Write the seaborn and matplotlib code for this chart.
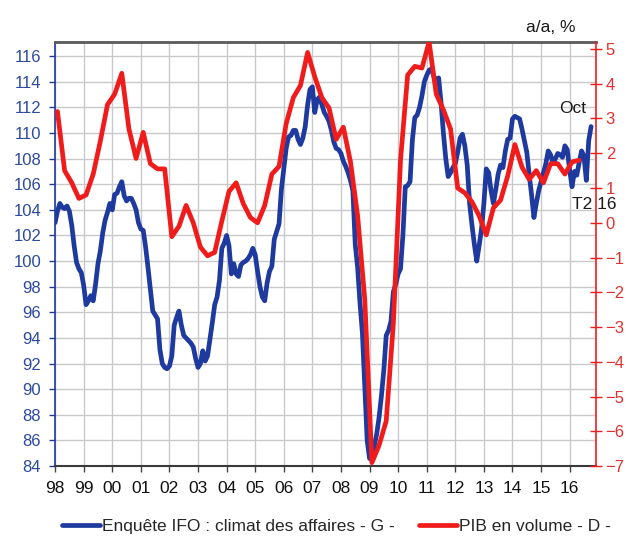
import numpy as np
import pandas as pd
import matplotlib
matplotlib.use("Agg")
import matplotlib.pyplot as plt
import seaborn as sns

# Enquête IFO : climat des affaires, mensuel, janv. 1998 -> oct. 2016 (axe gauche)
ifo = [
    103.0, 103.9, 104.5, 104.2, 104.1, 104.3, 103.9, 102.8, 101.2, 99.9, 99.4, 99.1,    # 98
    98.1, 96.6, 96.9, 97.3, 96.9, 98.2, 99.8, 100.8, 102.2, 103.2, 103.8, 104.5,        # 99
    104.0, 105.2, 105.3, 105.8, 106.2, 105.1, 104.7, 104.9, 104.9, 104.5, 104.0, 103.0, # 00
    102.5, 102.4, 101.1, 99.5, 97.8, 96.1, 95.8, 95.5, 93.1, 92.0, 91.7, 91.6,          # 01
    91.8, 92.6, 95.0, 95.6, 96.1, 95.0, 94.2, 94.0, 93.8, 93.6, 93.3, 92.4,             # 02
    91.7, 92.0, 93.0, 92.2, 92.6, 93.9, 95.2, 96.6, 97.2, 98.5, 101.0, 101.4,           # 03
    102.0, 101.2, 99.0, 99.8, 99.0, 98.8, 99.7, 99.9, 100.0, 100.2, 100.5, 101.0,       # 04
    100.5, 99.2, 98.0, 97.2, 96.9, 98.3, 99.2, 99.6, 101.7, 102.3, 102.9, 105.6,        # 05
    107.2, 108.8, 109.7, 109.8, 110.2, 110.2, 109.5, 109.1, 109.6, 110.5, 112.2, 113.4, # 06
    113.6, 111.6, 112.6, 112.8, 112.2, 111.6, 111.3, 110.9, 110.2, 109.3, 108.8, 108.7, # 07
    108.4, 107.8, 107.4, 106.9, 106.3, 105.5, 101.3, 99.5, 96.7, 94.4, 90.2, 86.0,      # 08
    84.6, 84.5, 85.6, 86.5, 87.8, 89.5, 91.5, 94.2, 94.6, 95.3, 97.6, 98.2,             # 09
    99.0, 99.4, 102.0, 105.8, 105.9, 106.2, 109.5, 111.2, 111.4, 112.0, 112.9, 114.0,   # 10
    114.5, 114.9, 115.0, 114.4, 114.1, 114.3, 112.4, 110.0, 108.0, 106.6, 106.9, 107.3, # 11
    107.6, 108.5, 109.6, 109.9, 109.0, 107.5, 104.5, 102.8, 101.3, 100.0, 101.2, 102.5, # 12
    104.5, 107.2, 106.9, 105.5, 104.5, 105.6, 106.8, 107.5, 107.3, 108.6, 109.5, 109.6, # 13
    111.1, 111.3, 111.2, 111.1, 110.3, 109.4, 108.5, 106.8, 105.2, 103.4, 104.5, 105.5, # 14
    106.2, 106.9, 107.6, 108.6, 108.3, 107.6, 108.0, 108.4, 108.3, 108.1, 109.0, 108.7, # 15
    107.1, 105.8, 107.0, 106.7, 107.7, 108.6, 108.2, 106.3, 109.4, 110.5,               # 16
]

# PIB en volume, a/a en %, trimestriel, T1 1998 -> T2 2016 (axe droit)
pib = [
    3.2, 1.5, 1.15, 0.7,      # 98
    0.8, 1.4, 2.35, 3.4,      # 99
    3.7, 4.3, 2.7, 1.85,      # 00
    2.6, 1.7, 1.55, 1.55,     # 01
    -0.4, -0.1, 0.5, 0.0,     # 02
    -0.7, -0.95, -0.85, 0.05, # 03
    0.9, 1.15, 0.55, 0.15,    # 04
    0.0, 0.5, 1.4, 1.62,      # 05
    2.85, 3.6, 3.95, 4.9,     # 06
    4.2, 3.6, 3.3, 2.4,       # 07
    2.75, 1.75, 0.2, -2.2,    # 08
    -6.9, -6.4, -5.7, -2.9,   # 09
    1.8, 4.25, 4.5, 4.45,     # 10
    5.2, 3.7, 3.25, 2.7,      # 11
    1.0, 0.86, 0.6, 0.2,      # 12
    -0.35, 0.43, 0.65, 1.35,  # 13
    2.25, 1.6, 1.25, 1.5,     # 14
    1.15, 1.7, 1.7, 1.4,      # 15
    1.75, 1.8,                # 16
]

years = list(range(1998, 2017))
year_labels = [f"{y % 100:02d}" for y in years]
left_ticks = list(range(84, 117, 2))
right_ticks = list(range(-7, 6))

label_ifo = "Enquête IFO : climat des affaires - G -"
label_pib = "PIB en volume - D -"

BLUE = "#1f3a9e"
RED = "#f01c1c"

# positions : mois pour l'IFO, mois central du trimestre pour le PIB
df_ifo = pd.DataFrame({"date": 1998 + np.arange(len(ifo)) / 12, "val": ifo})
df_pib = pd.DataFrame({"date": 1998 + (3 * np.arange(len(pib)) + 1) / 12, "val": pib})

sns.set_style("white")
plt.rcParams["font.family"] = ["Liberation Sans", "DejaVu Sans"]

fig, ax = plt.subplots(figsize=(6.26, 5.42), dpi=100)
fig.subplots_adjust(left=0.088, right=0.952, bottom=0.140, top=0.9225)
ax2 = ax.twinx()

sns.lineplot(data=df_ifo, x="date", y="val", ax=ax, color=BLUE, linewidth=3.4, legend=False)
sns.lineplot(data=df_pib, x="date", y="val", ax=ax2, color=RED, linewidth=3.4, legend=False)

ax.set_xlim(1998, 2016.92)
ax.set_ylim(84, 117.1)
ax2.set_ylim(-7, 5.2)

ax.set_xticks(years)
ax.set_xticklabels(year_labels)
ax.set_yticks(left_ticks)
ax2.set_yticks(right_ticks)
for a in (ax, ax2):
    a.set_xlabel("")
    a.set_ylabel("")

ax.grid(True, color="#c9c9c9", linewidth=1)
ax.set_axisbelow(True)

ax.tick_params(axis="x", bottom=True, length=4, width=1, color="#444444",
               labelsize=12.5, labelcolor="#111111", pad=7)
ax.tick_params(axis="y", left=True, length=4, width=1, color=BLUE,
               labelsize=12, labelcolor="#2c4a9e", pad=6)
ax2.tick_params(axis="y", right=True, direction="inout", length=8, width=1,
                color=RED, labelsize=12, labelcolor="#e23030", pad=3)

ax.spines["top"].set_color("#5a5a5a")
ax.spines["top"].set_linewidth(2)
ax.spines["bottom"].set_color("#3a3a3a")
ax.spines["bottom"].set_linewidth(1.5)
ax.spines["left"].set_color(BLUE)
ax.spines["left"].set_linewidth(1.2)
ax.spines["right"].set_visible(False)
for s in ("top", "bottom", "left"):
    ax2.spines[s].set_visible(False)
ax2.spines["right"].set_color(RED)
ax2.spines["right"].set_linewidth(1.2)

# annotations
ax.text(2016.1, 111.9, "Oct", ha="center", va="center", fontsize=12.5, color="#1a1a1a")
ax.text(2016.08, 104.4, "T2 16", ha="left", va="center", fontsize=12.5, color="#1a1a1a",
        clip_on=False)
fig.text(575 / 626, 1 - 27 / 542, "a/a, %", ha="right", va="center", fontsize=12.5,
         color="#1a1a1a")

fig.legend([ax.lines[0], ax2.lines[0]], [label_ifo, label_pib], loc="center",
           bbox_to_anchor=(0.5375, 0.028), ncol=2, frameon=False, fontsize=12.5,
           handlelength=2.2, handletextpad=0.1, columnspacing=1.4)

fig.savefig("out.png", dpi=100)
